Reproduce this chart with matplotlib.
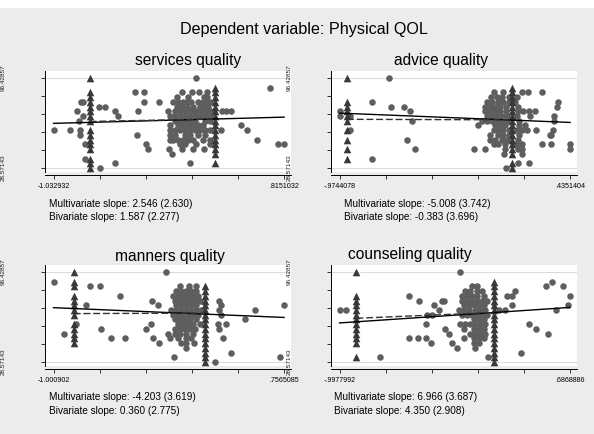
import numpy as np
import matplotlib
matplotlib.use("Agg")
import matplotlib.pyplot as plt
from matplotlib.patches import Rectangle
from matplotlib.transforms import blended_transform_factory

plt.rcParams['font.family'] = ['Liberation Sans', 'DejaVu Sans']

W, H = 594, 434

# ---- values ----
main_title = "Dependent variable: Physical QOL"
titles = ["services quality", "advice quality", "manners quality", "counseling quality"]
x_ranges = [(-1.032932, .8151032), (-.9744078, .4351404),
            (-1.000902, .7565085), (-.9977992, .6868886)]
x_labels = [("-1.032932", ".8151032"), ("-.9744078", ".4351404"),
            ("-1.000902", ".7565085"), ("-.9977992", ".6868886")]
y_range = (28.57143, 96.42857)
y_labels = ("28.57143", "96.42857")
multi_txt = ["2.546 (2.630)", "-5.008 (3.742)", "-4.203 (3.619)", "6.966 (3.687)"]
biv_txt = ["1.587 (2.277)", "-0.383 (3.696)", "0.360 (2.775)", "4.350 (2.908)"]

# circles, one row per QOL value: (y, [x, ...])
svc_rows = [
    (96.43, [0.112]),
    (89.29, [0.702]),
    (85.71, [-0.379, -0.305, 0.000, 0.080, 0.130, 0.200]),
    (82.14, [-0.047, 0.045, 0.170, 0.200]),
    (78.57, [-0.810, -0.796, -0.305, -0.186, -0.074, -0.034, 0.006, 0.033, 0.072, 0.126, 0.165, 0.192, 0.219]),
    (75.00, [-0.672, -0.619, -0.047, -0.007, 0.033, 0.086, 0.139, 0.179, 0.205]),
    (71.43, [-0.844, -0.539, -0.358, -0.114, -0.060, -0.021, 0.019, 0.059, 0.086, 0.112, 0.152, 0.192, 0.219, 0.320, 0.351, 0.386]),
    (67.86, [-0.796, -0.513, -0.100, -0.060, -0.021, 0.019, 0.059, 0.099, 0.139, 0.179, 0.219]),
    (64.29, [-0.826, -0.060, -0.021, 0.019, 0.059, 0.099, 0.179, 0.219]),
    (60.71, [-0.100, -0.034, 0.006, 0.046, 0.086, 0.126, 0.165, 0.471]),
    (57.14, [-1.031, -0.903, -0.823, -0.100, -0.060, -0.021, 0.019, 0.059, 0.099, 0.139, 0.179, 0.219, 0.306, 0.521]),
    (53.57, [-0.823, -0.366, -0.100, -0.060, 0.019, 0.059, 0.126, 0.179]),
    (50.00, [-0.100, -0.074, -0.034, 0.006, 0.046, 0.086, 0.165, 0.219, 0.601]),
    (46.43, [-0.783, -0.292, -0.021, 0.019, 0.112, 0.219, 0.768, 0.815]),
    (42.86, [-0.273, -0.108, -0.005, 0.083, 0.170]),
    (39.29, [-0.087]),
    (35.71, [-0.783]),
    (32.14, [-0.539, 0.059]),
    (28.57, [-0.658]),
]
adv_rows = [
    (96.43, [-0.671]),
    (85.71, [-0.033, 0.028, 0.140, 0.175, 0.262]),
    (82.14, [-0.047, -0.013, 0.018, 0.059, 0.110]),
    (78.57, [-0.773, -0.074, -0.043, -0.007, 0.028, 0.059, 0.099, 0.364]),
    (75.00, [-0.661, -0.579, -0.084, -0.053, -0.023, 0.008, 0.042, 0.116, 0.356]),
    (71.43, [-0.974, -0.542, -0.084, -0.053, -0.023, 0.008, 0.042, 0.116, 0.150, 0.187, 0.222]),
    (67.86, [-0.970, -0.909, -0.074, -0.043, -0.013, 0.018, 0.048, 0.110, 0.191, 0.334]),
    (64.29, [-0.532, -0.104, -0.074, -0.043, -0.013, 0.018, 0.048, 0.120, 0.334]),
    (60.71, [-0.129, -0.023, 0.008, 0.038, 0.120, 0.161]),
    (57.14, [-0.909, -0.033, -0.003, 0.028, 0.059, 0.110, 0.140, 0.171, 0.226, 0.328]),
    (53.57, [-0.053, -0.003, 0.028, 0.059, 0.120, 0.313, 0.319]),
    (50.00, [-0.563, -0.053, -0.023, 0.018, 0.048, 0.116]),
    (46.43, [-0.033, -0.003, 0.038, 0.110, 0.140, 0.262, 0.319, 0.435]),
    (42.86, [-0.516, -0.151, -0.088, 0.038, 0.116, 0.140, 0.435]),
    (39.29, [0.034, 0.144]),
    (35.71, [-0.773]),
    (32.14, [0.116, 0.185]),
    (28.57, [0.042]),
]
man_rows = [
    (96.43, [-0.145]),
    (89.29, [-0.998]),
    (85.71, [-0.726, -0.650, -0.039, 0.032, 0.087]),
    (82.14, [-0.064, -0.026, 0.011, 0.049, 0.087]),
    (78.57, [-0.493, -0.089, -0.052, -0.014, 0.024, 0.062, 0.100]),
    (75.00, [-0.253, -0.077, -0.039, -0.001, 0.037, 0.075, 0.113, 0.264]),
    (71.43, [-0.751, -0.203, -0.064, -0.026, 0.011, 0.049, 0.087, 0.277, 0.756]),
    (67.86, [-0.102, -0.064, -0.026, 0.011, 0.049, 0.087, 0.125, 0.264, 0.537]),
    (64.29, [-0.089, -0.052, -0.014, 0.024, 0.062, 0.100, 0.277]),
    (60.71, [-0.077, -0.039, -0.001, 0.037, 0.087, 0.461]),
    (57.14, [-0.827, -0.261, -0.052, -0.014, 0.024, 0.062, 0.113, 0.251, 0.315]),
    (53.57, [-0.640, -0.296, -0.077, -0.039, -0.001, 0.037, 0.075, 0.264]),
    (50.00, [-0.918, -0.127, -0.077, -0.039, 0.011, 0.062]),
    (46.43, [-0.562, -0.456, -0.246, -0.110, -0.052, 0.011, 0.049, 0.289]),
    (42.86, [-0.198, -0.026, 0.011, 0.067]),
    (39.29, [0.011]),
    (35.71, [0.352]),
    (32.14, [-0.082, 0.726]),
    (28.57, [0.231]),
]
cou_rows = [
    (96.43, [-0.120]),
    (89.29, [0.553]),
    (85.71, [-0.030, 0.006, 0.512, 0.638]),
    (82.14, [-0.079, -0.042, 0.006, 0.043, 0.286]),
    (78.57, [-0.487, -0.103, -0.067, -0.030, 0.006, 0.055, 0.225, 0.262, 0.687]),
    (75.00, [-0.414, -0.249, -0.237, -0.103, -0.067, -0.030, 0.006, 0.043, 0.079]),
    (71.43, [-0.305, -0.091, -0.055, -0.018, 0.018, 0.055, 0.262, 0.675]),
    (67.86, [-0.998, -0.954, -0.273, -0.127, -0.091, -0.055, -0.006, 0.030, 0.067, 0.164, 0.213, 0.585]),
    (64.29, [-0.358, -0.322, -0.103, -0.067, -0.030, 0.006, 0.043, 0.079]),
    (60.71, [-0.018, 0.018, 0.055]),
    (57.14, [-0.363, -0.115, -0.079, -0.042, -0.006, 0.030, 0.067, 0.388]),
    (53.57, [-0.225, -0.091, -0.018, 0.018, 0.055, 0.439]),
    (50.00, [-0.200, -0.042, -0.006, 0.030, 0.067, 0.529]),
    (46.43, [-0.487, -0.424, -0.363, -0.086, -0.018, 0.018, 0.055]),
    (42.86, [-0.327, -0.176, -0.018, 0.018]),
    (39.29, [-0.140, -0.006]),
    (35.71, [0.327]),
    (32.14, [-0.704, 0.084]),
]

# triangles, one column per x: (x, [y, ...])
svc_tri = [(-0.744, [96.43, 85.71, 82.14, 78.57, 75.00, 71.43, 67.86, 64.29, 57.14, 53.57, 50.00, 46.43, 42.86, 35.71, 32.14, 28.57]),
           (0.258, [89.29, 85.71, 82.14, 78.57, 75.00, 71.43, 67.86, 64.29, 60.71, 57.14, 53.57, 50.00, 46.43, 42.86, 39.29, 32.14])]
adv_tri = [(-0.929, [96.43, 78.57, 75.00, 71.43, 67.86, 64.29, 57.14, 50.00, 42.86, 35.71]),
           (0.079, [89.29, 85.71, 82.14, 78.57, 75.00, 71.43, 67.86, 64.29, 60.71, 57.14, 53.57, 50.00, 46.43, 42.86, 39.29, 32.14, 28.57])]
man_tri = [(-0.847, [96.43, 89.29, 85.71, 78.57, 75.00, 71.43, 67.86, 64.29, 57.14, 53.57, 50.00, 46.43, 42.86]),
           (0.1505, [85.71, 82.14, 78.57, 75.00, 71.43, 67.86, 64.29, 60.71, 57.14, 53.57, 50.00, 46.43, 42.86, 39.29, 35.71, 32.14, 28.57])]
cou_tri = [(-0.874, [96.43, 78.57, 75.00, 71.43, 67.86, 64.29, 60.71, 57.14, 53.57, 50.00, 46.43, 42.86, 32.14]),
           (0.128, [89.29, 85.71, 82.14, 78.57, 75.00, 71.43, 67.86, 64.29, 60.71, 57.14, 53.57, 50.00, 46.43, 42.86, 39.29, 35.71, 32.14, 28.57])]

# fitted lines: solid over full x range, dashed between the triangle columns
solid_y = [(62.28, 66.99), (70.03, 62.97), (69.60, 62.21), (58.07, 69.80)]
dashed_y = [(63.70, 65.60), (65.34, 64.95), (65.13, 65.49), (61.60, 65.96)]

all_rows = [svc_rows, adv_rows, man_rows, cou_rows]
all_tri = [svc_tri, adv_tri, man_tri, cou_tri]

# ---- layout (pixels) ----
boxes = [(45, 71), (331, 71), (45, 265), (331, 265)]
box_w, box_h = 246, 101
title_pos = [(188, 61), (441, 61), (170, 256), (410, 255)]
note_pos = [(49, 204), (344, 204), (49, 397), (334, 397)]

circ_col = '#5e5e5e'
tri_col = '#383838'

fig = plt.figure(figsize=(W / 100, H / 100), dpi=100, facecolor='#ececec')
fig.patches.append(Rectangle((0, 1 - 8 / H), 1, 8 / H, transform=fig.transFigure,
                             facecolor='white', edgecolor='none', zorder=-1))
fig.text(304 / W, 1 - 29.5 / H, main_title, ha='center', va='center', fontsize=11.6)

for i in range(4):
    l, t = boxes[i]
    ax = fig.add_axes([l / W, 1 - (t + box_h) / H, box_w / W, box_h / H])
    ax.set_facecolor('white')
    xmin, xmax = x_ranges[i]
    span = xmax - xmin
    ax.set_xlim(xmin - 0.037 * span, xmax + 0.03 * span)
    yspan = y_range[1] - y_range[0]
    ax.set_ylim(y_range[0] - 0.045 * yspan, y_range[1] + 0.08 * yspan)

    for yv in y_range:
        ax.axhline(yv, color='#dcdcdc', lw=0.8, zorder=0)

    cx = [x for y, xs in all_rows[i] for x in xs]
    cy = [y for y, xs in all_rows[i] for x in xs]
    ax.scatter(cx, cy, s=22, marker='o', color=circ_col, linewidths=0, zorder=2)
    for xc, ys in all_tri[i]:
        ax.scatter([xc] * len(ys), ys, s=30, marker='^', color=tri_col, linewidths=0, zorder=3)

    ax.plot([xmin, xmax], solid_y[i], color='black', lw=1.0, zorder=4)
    ax.plot([all_tri[i][0][0], all_tri[i][1][0]], dashed_y[i], color='#333333',
            lw=1.0, dashes=(5, 2), zorder=4)

    for s in ['top', 'right']:
        ax.spines[s].set_visible(False)
    ax.spines['left'].set_linewidth(0.7)
    ax.spines['bottom'].set_linewidth(0.7)
    ax.spines['bottom'].set_position(('outward', 2.2))
    ax.set_xticks(np.linspace(xmin, xmax, 6))
    ax.set_xticklabels([x_labels[i][0], '', '', '', '', x_labels[i][1]])
    ax.set_yticks(np.linspace(y_range[0], y_range[1], 6))
    ax.set_yticklabels([])
    ax.tick_params(length=3, width=0.7, color='#333333', labelsize=5.1, pad=2.5)

    # y labels sit far to the left of the axis, rotated
    tr = blended_transform_factory(fig.transFigure, ax.transData)
    for yv, lab in zip(y_range, y_labels):
        fig.text((l - 42) / W, yv, lab, transform=tr, rotation=90,
                 ha='center', va='center', fontsize=4.6, color='#222222')

    tx, ty = title_pos[i]
    fig.text(tx / W, 1 - ty / H, titles[i], ha='center', va='center', fontsize=11.2)
    nx, ny = note_pos[i]
    fig.text(nx / W, 1 - ny / H, "Multivariate slope: " + multi_txt[i],
             ha='left', va='center', fontsize=7.2)
    fig.text(nx / W, 1 - (ny + 13.5) / H, "Bivariate slope: " + biv_txt[i],
             ha='left', va='center', fontsize=7.2)

fig.savefig("out.png", dpi=100, facecolor=fig.get_facecolor())
